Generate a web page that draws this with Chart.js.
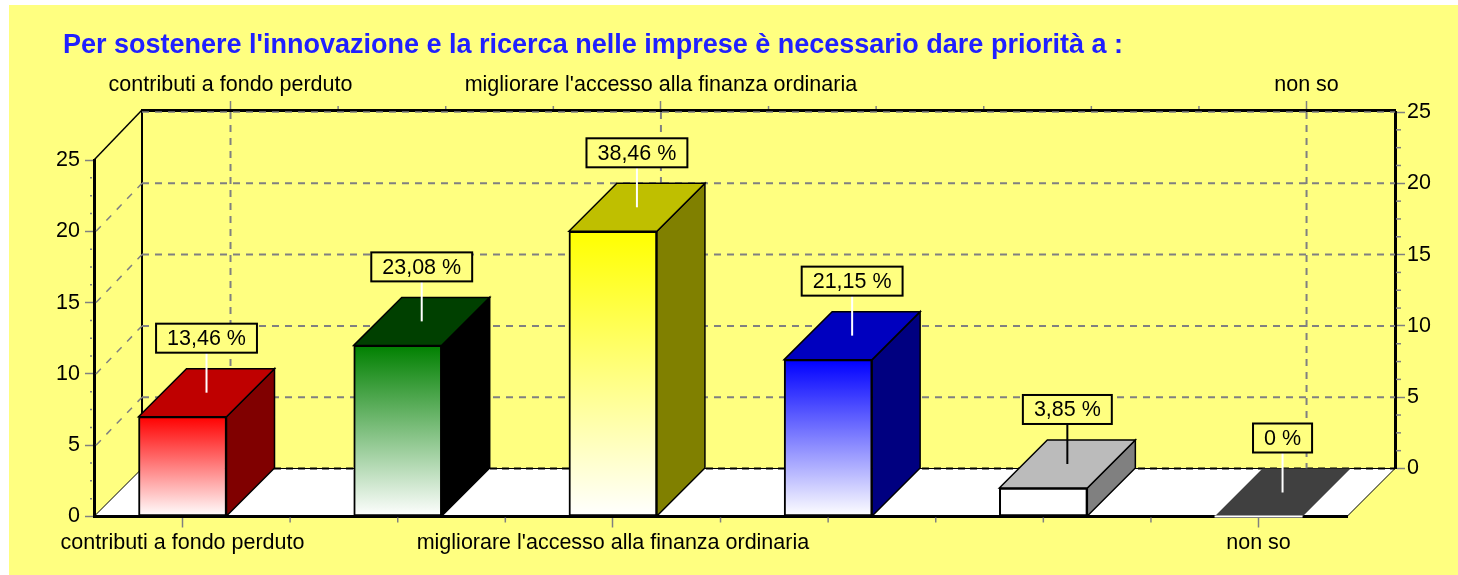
<!DOCTYPE html>
<html><head><meta charset="utf-8">
<script src="https://cdn.jsdelivr.net/npm/chart.js@4"></script>
<style>html,body{margin:0;background:#fff}canvas{display:block}</style></head>
<body><canvas id="c" width="1458" height="575"></canvas>
<script>
const titleText = "Per sostenere l'innovazione e la ricerca nelle imprese è necessario dare priorità a :";
const positions = [1, 2, 3, 4, 5, 6];
const categories = ["contributi a fondo perduto", "", "migliorare l'accesso alla finanza ordinaria", "", "", "non so"];
const values = [7, 12, 20, 11, 2, 0];
const percentLabels = ["13,46 %", "23,08 %", "38,46 %", "21,15 %", "3,85 %", "0 %"];

const frontColors = ["#ff0000", "#008000", "#ffff00", "#0000ff", "#ffffff", "#000000"];
const topColors = ["#bf0000", "#004000", "#bfbf00", "#0000bf", "#bbbbbb", "#404040"];
const sideColors = ["#800000", "#000000", "#808000", "#000080", "#808080", "#000000"];
const stemColors = ["#ffffff", "#ffffff", "#ffffff", "#ffffff", "#000000", "#ffffff"];

const DEPTH = 48, PANEL = "#ffff80", GRID = "#808080", FONT = "Liberation Sans, Arial, sans-serif", FS = 21.5;

function poly(ctx, pts, fill, stroke, lw) {
  ctx.beginPath();
  pts.forEach((p, i) => i ? ctx.lineTo(p[0], p[1]) : ctx.moveTo(p[0], p[1]));
  ctx.closePath();
  if (fill) { ctx.fillStyle = fill; ctx.fill(); }
  if (stroke) { ctx.strokeStyle = stroke; ctx.lineWidth = lw; ctx.stroke(); }
}
function seg(ctx, x1, y1, x2, y2, color, lw, dash) {
  ctx.save();
  ctx.beginPath(); ctx.setLineDash(dash || []);
  ctx.moveTo(x1, y1); ctx.lineTo(x2, y2);
  ctx.strokeStyle = color; ctx.lineWidth = lw; ctx.stroke();
  ctx.restore();
}
const labelled = v => !!categories[positions.indexOf(v)];

const depthPlugin = {
  id: "depth",
  afterLayout(chart) {
    const a = chart.scales.x2, b = chart.scales.y2, t = chart.titleBlock;
    a.left += DEPTH; a.right += DEPTH; a.top -= DEPTH + 2; a.bottom -= DEPTH + 2; a.configure();
    b.left += DEPTH; b.right += DEPTH; b.top -= DEPTH; b.bottom -= DEPTH; b.configure();
    t.left += 13; t.right += 13;
  },
  beforeDraw(chart) {
    const { ctx, chartArea: c } = chart;
    ctx.save();
    ctx.fillStyle = PANEL; ctx.fillRect(9, 5, 1449, 570);
    poly(ctx, [[c.left, c.bottom], [c.right, c.bottom], [c.right + DEPTH, c.bottom - DEPTH], [c.left + DEPTH, c.bottom - DEPTH]], "#ffffff", "#000000", 1);
    ctx.restore();
  },
  beforeDatasetsDraw(chart) {
    const { ctx, chartArea: c, scales } = chart;
    const y = scales.y, y2 = scales.y2, x2 = scales.x2, x = scales.x;
    ctx.save();
    // back wall edges
    seg(ctx, c.left + DEPTH, c.top - DEPTH - 2, c.left + DEPTH, c.bottom - DEPTH, "#000", 2);
    seg(ctx, c.left, c.top, c.left + DEPTH, c.top - DEPTH - 2, "#000", 1.5);
    seg(ctx, c.left + DEPTH, c.bottom - DEPTH, c.right + DEPTH, c.bottom - DEPTH, "#000", 2, [7, 5]);
    // wall and side grid
    y.ticks.forEach(t => {
      const p = y.getPixelForValue(t.value), q = y2.getPixelForValue(t.value);
      if (t.value > 0) seg(ctx, c.left + DEPTH, q, c.right + DEPTH, q, GRID, t.value === 25 ? 1.5 : 2, [7, 6]);
      if (t.value > 0 && t.value < 25) seg(ctx, c.left + 2, p, c.left + DEPTH, q, GRID, 1.5, [7, 8]);
    });
    // vertical wall grid at labelled categories
    x2.ticks.forEach(t => {
      if (labelled(t.value)) {
        const px = x2.getPixelForValue(t.value);
        seg(ctx, px, c.top - DEPTH, px, c.bottom - DEPTH, GRID, 2, [7, 6]);
      }
    });
    // minor ticks on value axes, short ticks on category axes
    for (let v = 0; v < 25; v += 5) for (let k = 1; k < 4; k++) {
      const w = v + k * 1.25;
      const p = y.getPixelForValue(w), q = y2.getPixelForValue(w);
      seg(ctx, c.left - 4, p, c.left - 2, p, GRID, 1.5);
      seg(ctx, c.right + DEPTH + 1, q, c.right + DEPTH + 6, q, GRID, 1.5);
    }
    x.ticks.forEach(t => { if (!labelled(t.value)) { const px = x.getPixelForValue(t.value); seg(ctx, px, c.bottom + 1, px, c.bottom + 6, GRID, 1.5); } });
    x2.ticks.forEach(t => { if (!labelled(t.value)) { const px = x2.getPixelForValue(t.value); seg(ctx, px, c.top - DEPTH - 6, px, c.top - DEPTH - 3, GRID, 1.5); } });
    // bar tops and sides
    chart.getDatasetMeta(0).data.forEach((bar, i) => {
      const L = bar.x - bar.width / 2, R = bar.x + bar.width / 2, T = bar.y, B = bar.base;
      const zero = values[i] === 0;
      if (!zero) poly(ctx, [[R, T], [R + DEPTH, T - DEPTH], [R + DEPTH, B - DEPTH], [R, B]], sideColors[i], "#000", 1.5);
      poly(ctx, [[L, T], [L + DEPTH, T - DEPTH], [R + DEPTH, T - DEPTH], [R, T]], topColors[i], zero ? null : "#000", 1.5);
    });
    ctx.restore();
  },
  afterDatasetsDraw(chart) {
    const { ctx } = chart;
    ctx.save();
    ctx.font = FS + "px " + FONT;
    ctx.textAlign = "center"; ctx.textBaseline = "middle";
    chart.getDatasetMeta(0).data.forEach((bar, i) => {
      if (values[i] === 0) seg(ctx, bar.x - bar.width / 2, bar.y, bar.x + bar.width / 2, bar.y, "#ffffff", 2);
      const ax = bar.x + DEPTH / 2, ay = bar.y - DEPTH / 2;
      const w = ctx.measureText(percentLabels[i]).width + 22, h = 29, top = ay - 40 - h;
      seg(ctx, ax, ay, ax, ay - 40, stemColors[i], 2);
      ctx.fillStyle = PANEL; ctx.strokeStyle = "#000"; ctx.lineWidth = 2;
      ctx.fillRect(ax - w / 2, top, w, h); ctx.strokeRect(ax - w / 2, top, w, h);
      ctx.fillStyle = "#000"; ctx.fillText(percentLabels[i], ax, top + h / 2 + 1);
    });
    ctx.restore();
  }
};

const catTick = v => { const i = positions.indexOf(v); return i >= 0 ? categories[i] : ""; };
const tickColorX = c => (c.tick && labelled(c.tick.value)) ? GRID : "rgba(0,0,0,0)";
const font = { family: FONT, size: FS };

new Chart(document.getElementById("c"), {
  type: "bar",
  data: {
    datasets: [{
      data: positions.map((p, i) => ({ x: p, y: values[i] })),
      barThickness: 88,
      borderColor: "#000", borderWidth: 2, borderSkipped: false,
      backgroundColor(ctx) {
        if (ctx.type !== "data") return "#fff";
        const s = ctx.chart.scales.y, y0 = s.getPixelForValue(values[ctx.dataIndex]), y1 = s.getPixelForValue(0);
        if (!isFinite(y0) || !isFinite(y1)) return "#fff";
        const g = ctx.chart.ctx.createLinearGradient(0, y0, 0, y1);
        g.addColorStop(0, frontColors[ctx.dataIndex]); g.addColorStop(1, "#ffffff");
        return g;
      }
    }]
  },
  options: {
    responsive: false, animation: false,
    layout: { padding: { left: 50, right: 51, top: 29, bottom: 8.5 } },
    plugins: {
      legend: { display: false }, tooltip: { enabled: false },
      title: { display: true, text: titleText, align: "start", color: "#2020ff", padding: 0, font: { family: FONT, size: 27, weight: "bold" } }
    },
    scales: {
      x: {
        type: "linear", position: "bottom", min: 0.5887, max: 6.411, offset: false,
        afterFit(s) { s.height = 50; },
        ticks: { stepSize: 0.5, includeBounds: false, autoSkip: false, maxRotation: 0, minRotation: 0, color: "#000", font, padding: 3, callback: catTick },
        grid: { offset: false, drawOnChartArea: false, tickLength: 11, tickColor: tickColorX, tickWidth: 1.5 },
        border: { color: "#000", width: 3 }
      },
      x2: {
        type: "linear", position: "top", min: 0.5887, max: 6.411, offset: false,
        afterFit(s) { s.height = 98.6; },
        ticks: { stepSize: 0.5, includeBounds: false, autoSkip: false, maxRotation: 0, minRotation: 0, color: "#000", font, padding: 3, callback: catTick },
        grid: { offset: false, drawOnChartArea: false, tickLength: 9, tickColor: tickColorX, tickWidth: 1.5 },
        border: { color: "#000", width: 3 }
      },
      y: {
        position: "left", min: 0, max: 25,
        afterFit(s) { s.width = 44; },
        ticks: { stepSize: 5, color: "#000", font, padding: 5 },
        grid: { drawOnChartArea: false, tickLength: 9, tickColor: GRID, tickWidth: 1.5 },
        border: { color: "#000", width: 3 }
      },
      y2: {
        position: "right", min: 0, max: 25,
        afterFit(s) { s.width = 60; },
        ticks: { stepSize: 5, color: "#000", font, padding: 2 },
        grid: { drawOnChartArea: false, tickLength: 10, tickColor: GRID, tickWidth: 1.5 },
        border: { color: "#000", width: 3 }
      }
    }
  },
  plugins: [depthPlugin]
});
</script></body></html>
